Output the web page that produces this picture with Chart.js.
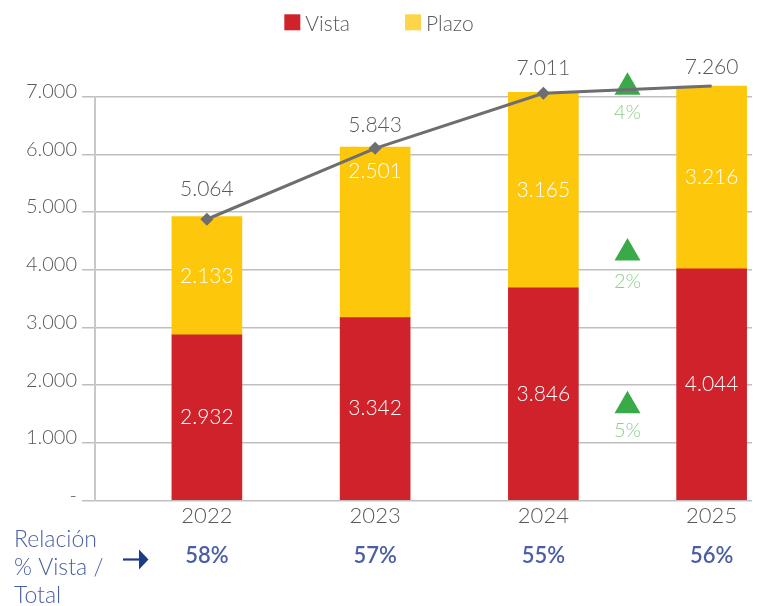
<!DOCTYPE html>
<html>
<head>
<meta charset="utf-8">
<script src="https://cdn.jsdelivr.net/npm/chart.js@4"></script>
<style>
  html, body { margin: 0; padding: 0; background: #ffffff; }
  #wrap { width: 761px; height: 606px; position: relative; }
</style>
</head>
<body>
<div id="wrap"><canvas id="c" width="761" height="606"></canvas></div>
<script>
// ---------------- data ----------------
const categories   = ['2022', '2023', '2024', '2025'];
const vista        = [2870, 3170, 3685, 4015];   // red segment heights as drawn
const plazo        = [2050, 2955, 3390, 3170];   // yellow segment heights as drawn
const total        = [4875, 6105, 7060, 7185];   // grey line points as drawn
const vistaLabels  = ['2.932', '3.342', '3.846', '4.044'];
const plazoLabels  = ['2.133', '2.501', '3.165', '3.216'];
const totalLabels  = ['5.064', '5.843', '7.011', '7.260'];
const vistaShare   = ['58%', '57%', '55%', '56%'];
const growthSeries = ['Vista', 'Plazo', 'Total'];
const growthLevels = [1640, 4290, 7165];
const growthLabels = ['5%', '2%', '4%'];
const yTicks       = [0, 1000, 2000, 3000, 4000, 5000, 6000, 7000];
const yTickLabels  = ['-', '1.000', '2.000', '3.000', '4.000', '5.000', '6.000', '7.000'];
const footerLines  = ['Relación', '% Vista /', 'Total'];
const legendItems  = ['Vista', 'Plazo'];

// ---------------- style / layout ----------------
const FONT = 'Lato, "Open Sans", sans-serif';
const RED = '#d0222b', YELLOW = '#fdc70c', LINE = '#6d6d72', GREEN = '#3aaa48';
const GREEN_TXT = '#8fcf8d', GREY_TXT = '#595959', BLUE_TXT = '#4a5ea6', NAVY = '#1d3b8b';
const LEGEND_SWATCH = [RED, '#fed54a'];
const X_MIN = -0.665, X_MAX = 3.24;
const Y_AXIS_W = 95, X_AXIS_H = 105.6;
const PLAZO_LABEL_SHIFT = [0, -61, 0, 0];
const TOTAL_LABEL_GAP = [30, 23, 25, 19];
const GROWTH_LABEL_GAP = [24.5, 29, 25.5];
const growthX = (categories.indexOf('2024') + categories.indexOf('2025')) / 2;

const xy = (arr) => arr.map((v, i) => ({ x: i, y: v }));

const valueLabels = {
  id: 'valueLabels',
  afterDatasetsDraw(chart) {
    const ctx = chart.ctx;
    ctx.save();
    ctx.textAlign = 'center';
    ctx.textBaseline = 'middle';
    // bar segment labels
    ctx.fillStyle = '#ffffff';
    ctx.font = '300 21px ' + FONT;
    chart.getDatasetMeta(2).data.forEach((b, i) => {
      ctx.fillText(vistaLabels[i], b.x, (b.y + b.base) / 2);
    });
    chart.getDatasetMeta(3).data.forEach((b, i) => {
      ctx.fillText(plazoLabels[i], b.x, (b.y + b.base) / 2 + PLAZO_LABEL_SHIFT[i]);
    });
    // totals above line points
    ctx.fillStyle = GREY_TXT;
    ctx.font = '300 21px ' + FONT;
    chart.getDatasetMeta(0).data.forEach((p, i) => {
      ctx.fillText(totalLabels[i], p.x, p.y - TOTAL_LABEL_GAP[i]);
    });
    // growth labels under triangles
    ctx.fillStyle = GREEN_TXT;
    ctx.font = '300 20px ' + FONT;
    chart.getDatasetMeta(1).data.forEach((p, i) => {
      ctx.fillText(growthLabels[i], p.x, p.y + GROWTH_LABEL_GAP[i]);
    });
    ctx.restore();
  }
};

const legendAndFooter = {
  id: 'legendAndFooter',
  afterDraw(chart) {
    const ctx = chart.ctx;
    const xs = chart.scales.x;
    ctx.save();
    // legend
    ctx.font = '300 21px ' + FONT;
    ctx.textBaseline = 'alphabetic';
    ctx.textAlign = 'left';
    const box = 16, gap = 5, spacing = 55;
    const widths = legendItems.map(t => box + gap + ctx.measureText(t).width);
    const totalW = widths.reduce((a, b) => a + b, 0) + spacing * (legendItems.length - 1);
    let lx = 379 - totalW / 2;
    legendItems.forEach((t, i) => {
      ctx.fillStyle = LEGEND_SWATCH[i];
      ctx.fillRect(lx, 14.3, box, box);
      ctx.fillStyle = GREY_TXT;
      ctx.fillText(t, lx + box + gap, 31);
      lx += widths[i] + spacing;
    });
    // footer label
    ctx.fillStyle = BLUE_TXT;
    ctx.font = '300 23px ' + FONT;
    footerLines.forEach((t, i) => ctx.fillText(t, 14, 547.3 + i * 28));
    // arrow
    ctx.strokeStyle = NAVY;
    ctx.lineWidth = 2.2;
    ctx.beginPath();
    ctx.moveTo(123, 559.5);
    ctx.lineTo(141, 559.5);
    ctx.stroke();
    ctx.fillStyle = NAVY;
    ctx.beginPath();
    ctx.moveTo(139, 549.5);
    ctx.lineTo(148.5, 559.5);
    ctx.lineTo(139, 569.5);
    ctx.closePath();
    ctx.fill();
    // share row
    ctx.fillStyle = BLUE_TXT;
    ctx.font = '600 22px ' + FONT;
    ctx.textAlign = 'center';
    vistaShare.forEach((t, i) => ctx.fillText(t, xs.getPixelForValue(i), 563.3));
    ctx.restore();
  }
};

new Chart(document.getElementById('c'), {
  type: 'bar',
  data: {
    datasets: [
      {
        type: 'line', label: 'Total', stack: 'total', order: 0,
        data: xy(total),
        borderColor: LINE, backgroundColor: LINE, borderWidth: 3,
        pointStyle: 'rectRot', pointRadius: 6.5, pointBorderWidth: 0,
        pointBackgroundColor: LINE, tension: 0, clip: false
      },
      {
        type: 'scatter', label: 'Crecimiento', stack: 'growth', order: 1,
        data: growthLevels.map(v => ({ x: growthX, y: v })),
        pointStyle: 'triangle', pointRadius: 15, pointBorderWidth: 0,
        backgroundColor: GREEN, pointBackgroundColor: GREEN, clip: false
      },
      {
        type: 'bar', label: 'Vista', stack: 'bars', order: 2,
        data: xy(vista), backgroundColor: RED, barThickness: 70, clip: false
      },
      {
        type: 'bar', label: 'Plazo', stack: 'bars', order: 2,
        data: xy(plazo), backgroundColor: YELLOW, barThickness: 70, clip: false
      }
    ]
  },
  options: {
    responsive: false,
    animation: false,
    devicePixelRatio: 1,
    layout: { autoPadding: false, padding: { top: 96.7, right: 9, bottom: 0, left: 0 } },
    plugins: { legend: { display: false }, tooltip: { enabled: false }, title: { display: false } },
    scales: {
      x: {
        type: 'linear', min: X_MIN, max: X_MAX, stacked: true, offset: false,
        afterBuildTicks: (s) => { s.ticks = [{ value: X_MIN }].concat(categories.map((c, i) => ({ value: i }))); },
        afterFit: (s) => { s.height = X_AXIS_H; },
        grid: {
          color: (c) => (c.index === 0 ? '#c8c8c8' : 'rgba(0,0,0,0)'),
          lineWidth: 2, drawTicks: true, tickLength: 15
        },
        border: { display: false },
        ticks: {
          callback: (v) => (Number.isInteger(v) && categories[v] !== undefined ? categories[v] : ''),
          font: { family: FONT, size: 22, weight: '300', lineHeight: 1.2 },
          color: GREY_TXT, padding: -12.2, maxRotation: 0, autoSkip: false
        }
      },
      y: {
        min: 0, max: 7000, stacked: true,
        afterBuildTicks: (s) => { s.ticks = yTicks.map(v => ({ value: v })); },
        afterFit: (s) => { s.width = Y_AXIS_W; },
        grid: { color: '#bfbfbf', lineWidth: 1.5, drawTicks: true, tickLength: 13 },
        border: { display: true, color: '#c8c8c8', width: 2 },
        ticks: {
          callback: (v, i) => yTickLabels[i],
          font: { family: FONT, size: 20, weight: '300' },
          color: GREY_TXT, padding: 5, labelOffset: -5
        }
      }
    }
  },
  plugins: [valueLabels, legendAndFooter]
});
</script>
</body>
</html>
